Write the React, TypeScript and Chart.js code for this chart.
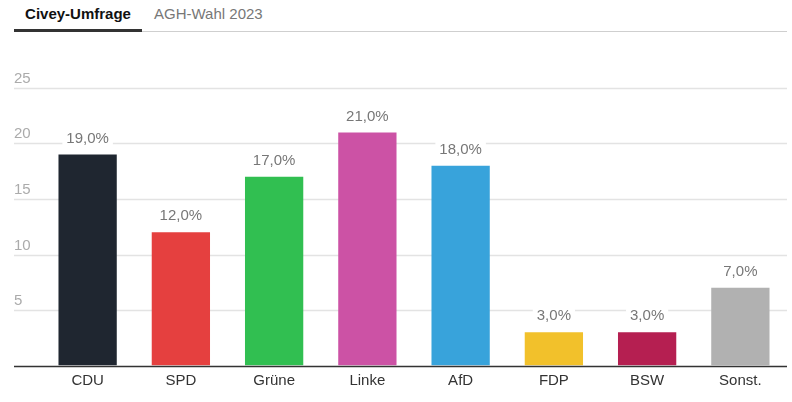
import React, { useEffect, useRef } from "react";
import { Chart, registerables, Plugin } from "chart.js";

Chart.register(...registerables);

const tabs = ["Civey-Umfrage", "AGH-Wahl 2023"];
const categories = ["CDU", "SPD", "Grüne", "Linke", "AfD", "FDP", "BSW", "Sonst."];
const values = [19, 12, 17, 21, 18, 3, 3, 7];
const barColors = ["#1f2630", "#e5403f", "#31bf51", "#cc52a5", "#38a3db", "#f2c12b", "#b51f51", "#b1b1b1"];
const yTicks = [5, 10, 15, 20, 25];

const FONT = '"Liberation Sans", Arial, sans-serif';
const GRID_LEFT = 14; // grid lines start left of the plot area

const fmt = (v: number) => v.toFixed(1).replace(".", ",") + "%";

// grid lines with labels sitting above them, plus the dark baseline
const gridPlugin: Plugin<"bar"> = {
  id: "gridLines",
  beforeDatasetsDraw(chart) {
    const { ctx, chartArea, scales } = chart;
    const y = scales.y;
    ctx.save();
    ctx.font = `15px ${FONT}`;
    ctx.textAlign = "left";
    ctx.textBaseline = "alphabetic";
    yTicks.forEach((t) => {
      const py = Math.round(y.getPixelForValue(t)) + 0.5;
      ctx.strokeStyle = "#e3e3e3";
      ctx.lineWidth = 1.5;
      ctx.beginPath();
      ctx.moveTo(GRID_LEFT, py);
      ctx.lineTo(chartArea.right, py);
      ctx.stroke();
      ctx.fillStyle = "#ababab";
      ctx.fillText(String(t), GRID_LEFT, py - 6);
    });
    ctx.restore();
  },
  afterDatasetsDraw(chart) {
    const { ctx, chartArea, scales } = chart;
    const py = Math.round(scales.y.getPixelForValue(0)) + 0.5;
    ctx.save();
    ctx.strokeStyle = "#333";
    ctx.lineWidth = 1.5;
    ctx.beginPath();
    ctx.moveTo(GRID_LEFT, py);
    ctx.lineTo(chartArea.right, py);
    ctx.stroke();

    // value labels on white boxes
    ctx.font = `15px ${FONT}`;
    ctx.textAlign = "center";
    ctx.textBaseline = "middle";
    const meta = chart.getDatasetMeta(0);
    meta.data.forEach((bar: any, i) => {
      const label = fmt(values[i]);
      const w = ctx.measureText(label).width;
      const cy = bar.y - 16;
      ctx.fillStyle = "#fff";
      ctx.fillRect(bar.x - w / 2 - 4, cy - 9, w + 8, 18);
      ctx.fillStyle = "#777";
      ctx.fillText(label, bar.x, cy);
    });
    ctx.restore();
  },
};

const BarChart: React.FC = () => {
  const canvasRef = useRef<HTMLCanvasElement | null>(null);

  useEffect(() => {
    const ctx = canvasRef.current?.getContext("2d");
    if (!ctx) return;

    const chart = new Chart(ctx, {
      type: "bar",
      data: {
        labels: categories,
        datasets: [
          {
            data: values,
            backgroundColor: barColors,
            borderWidth: 0,
            barPercentage: 0.625,
            categoryPercentage: 1,
          },
        ],
      },
      options: {
        responsive: true,
        maintainAspectRatio: false,
        animation: false,
        layout: { padding: { left: 41, right: 5, top: 55, bottom: 6.5 } },
        plugins: {
          legend: { display: false },
          tooltip: { enabled: false },
        },
        scales: {
          x: {
            grid: { display: false, drawTicks: false },
            border: { display: false },
            ticks: {
              color: "#333",
              font: { family: FONT, size: 15 },
              padding: 6,
            },
          },
          y: {
            display: false,
            min: 0,
            max: 25,
          },
        },
      },
      plugins: [gridPlugin],
    });

    return () => {
      chart.destroy();
    };
  }, []);

  return (
    <div style={{ position: "absolute", left: 0, top: 33, width: 792, height: 369 }}>
      <canvas ref={canvasRef} />
    </div>
  );
};

const App: React.FC = () => {
  useEffect(() => {
    document.body.style.margin = "0";
  }, []);

  return (
    <div style={{ position: "relative", width: 792, height: 402, fontFamily: FONT, background: "#fff" }}>
      {/* tab bar */}
      <div style={{ position: "absolute", left: 14, right: 5, top: 31, height: 1, background: "#cfcfcf" }} />
      <div
        style={{
          position: "absolute",
          left: 14,
          top: 0,
          width: 128,
          height: 29,
          borderBottom: "3px solid #333",
          fontSize: 15,
          fontWeight: "bold",
          color: "#111",
          textAlign: "center",
          lineHeight: "27px",
        }}
      >
        {tabs[0]}
      </div>
      <div
        style={{
          position: "absolute",
          left: 154,
          top: 0,
          height: 29,
          fontSize: 15,
          color: "#777",
          lineHeight: "27px",
        }}
      >
        {tabs[1]}
      </div>
      <BarChart />
    </div>
  );
};

export default App;
